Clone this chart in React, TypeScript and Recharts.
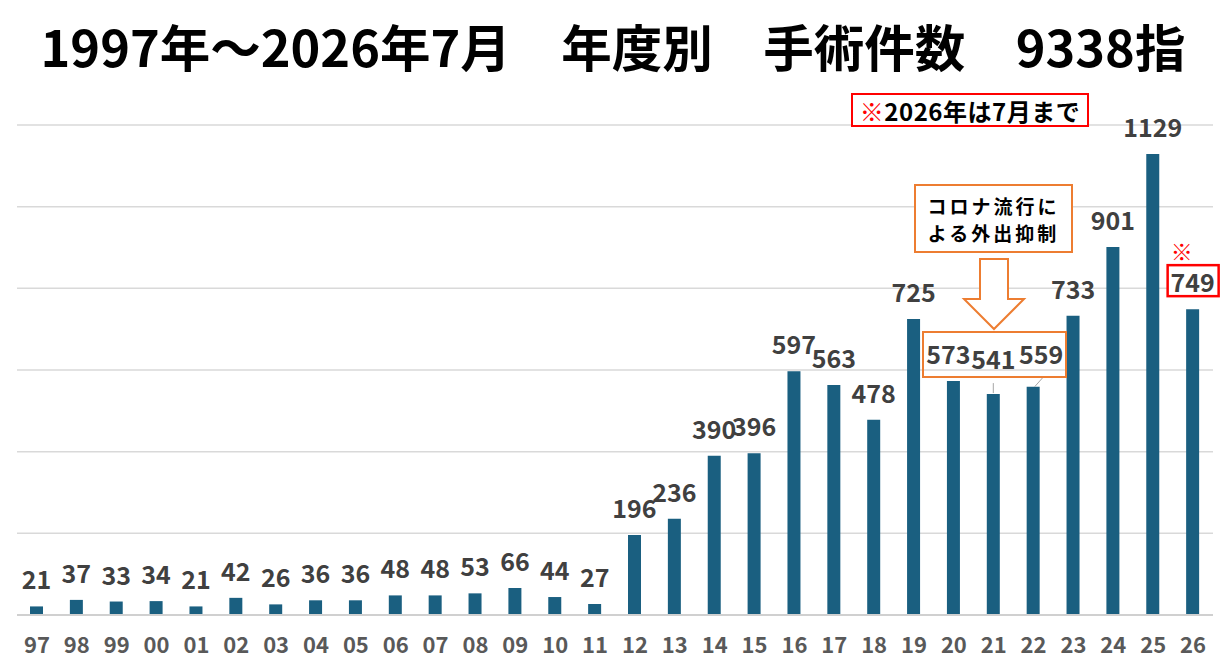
import React from 'react';
import { BarChart, Bar, XAxis, YAxis, CartesianGrid } from 'recharts';

// 年度（西暦下2桁）
const years = [
    '97', '98', '99', '00', '01', '02', '03', '04', '05', '06',
    '07', '08', '09', '10', '11', '12', '13', '14', '15', '16',
    '17', '18', '19', '20', '21', '22', '23', '24', '25', '26',
];

// 手術件数
const counts = [
    21, 37, 33, 34, 21, 42, 26, 36, 36, 48,
    48, 53, 66, 44, 27, 196, 236, 390, 396, 597,
    563, 478, 725, 573, 541, 559, 733, 901, 1129, 749,
];

const gridTicks = [0, 200, 400, 600, 800, 1000, 1200];

const chartData = years.map((y, i) => ({ year: y, count: counts[i] }));

const FONT = '"Noto Sans CJK JP", "Noto Sans", sans-serif';
const BAR_COLOR = '#1a5f80';
const ORANGE = '#ed7d31';
const RED = '#ff0000';

function ValueLabel(props: any) {
    const { x, y, width, value, index } = props;
    const cx = x + width / 2;
    let dx = 0;
    let dy = 0;
    // コロナ期のラベルは枠内に寄せる
    if (index === 23) dx = -5;
    if (index === 24) dy = -8;
    if (index === 25) { dx = 8; dy = -6; }
    const tx = cx + dx;
    const ty = y - 28 + dy;
    return (
        <g>
            {index === 24 && <line x1={cx} y1={y - 11} x2={cx} y2={y - 1} stroke="#a6a6a6" strokeWidth={1} />}
            {index === 25 && <line x1={cx + 1.5} y1={y} x2={cx + 9.5} y2={y - 9} stroke="#a6a6a6" strokeWidth={1} />}
            {index === 29 && (
                <rect x={cx - 25} y={ty - 16} width={51} height={31} fill="#fff" stroke={RED} strokeWidth={2.5} />
            )}
            {index === 29 && (
                <text x={cx - 11} y={ty - 31} textAnchor="middle" dominantBaseline="central"
                    fontSize={22} fill={RED} fontFamily={FONT}>※</text>
            )}
            <text x={tx} y={ty} textAnchor="middle" dominantBaseline="central"
                fontSize={25} fontWeight={700} fill="#404040" fontFamily={FONT}>{value}</text>
        </g>
    );
}

function YearTick(props: any) {
    const { x, y, payload } = props;
    return (
        <text x={x} y={y + 28} textAnchor="middle" dominantBaseline="central"
            fontSize={22} fontWeight={700} fill="#595959" fontFamily={FONT}>{payload.value}</text>
    );
}

export default function App() {
    return (
        <div style={{ position: 'absolute', left: 0, top: 0, width: 1226, height: 660, background: '#fff', fontFamily: FONT }}>
            <div style={{
                position: 'absolute', left: 0, top: 19, width: 1226, height: 52,
                textAlign: 'center', fontSize: 50.5, fontWeight: 700, lineHeight: '52px',
                color: '#000', whiteSpace: 'pre'
            }}>
                1997年～2026年7月　年度別　手術件数　9338指
            </div>

            <div style={{ position: 'absolute', left: 0, top: 0 }}>
                <BarChart width={1226} height={660} data={chartData}
                    margin={{ top: 125, right: 13, bottom: 15, left: 17 }}>
                    <CartesianGrid vertical={false} stroke="#d9d9d9" strokeWidth={1.5} />
                    <YAxis hide domain={[0, 1200]} ticks={gridTicks} />
                    <XAxis dataKey="year" height={30} axisLine={{ stroke: '#d0d0d0', strokeWidth: 2 }}
                        tickLine={false} tickSize={0} tickMargin={0} interval={0} tick={<YearTick />} />
                    <Bar dataKey="count" fill={BAR_COLOR} barSize={13} isAnimationActive={false}
                        label={<ValueLabel />} />
                </BarChart>
            </div>

            {/* 注記：2026年 */}
            <div style={{
                position: 'absolute', left: 851, top: 93, width: 238, height: 34, boxSizing: 'border-box',
                border: `2.5px solid ${RED}`, background: '#fff', display: 'flex', alignItems: 'center',
                justifyContent: 'center', fontSize: 24, fontWeight: 700, color: '#000', letterSpacing: '0.5px'
            }}>
                <span style={{ color: RED, fontWeight: 400 }}>※</span>2026年は7月まで
            </div>

            {/* コロナ注記 */}
            <div style={{
                position: 'absolute', left: 914, top: 184, width: 159, height: 69, boxSizing: 'border-box',
                border: `2px solid ${ORANGE}`, background: '#fff', display: 'flex', flexDirection: 'column',
                alignItems: 'center', justifyContent: 'center', fontSize: 19, fontWeight: 700,
                color: '#000', letterSpacing: '3px', lineHeight: '27px'
            }}>
                <div>コロナ流行に</div>
                <div>よる外出抑制</div>
            </div>

            <svg width={1226} height={660} style={{ position: 'absolute', left: 0, top: 0, pointerEvents: 'none' }}>
                <polygon points="980,259 1008,259 1008,299 1024,299 994,329 964,299 980,299"
                    fill="#fff" stroke={ORANGE} strokeWidth={2} />
                <rect x={923} y={332} width={143} height={45} fill="none" stroke={ORANGE} strokeWidth={2} />
            </svg>
        </div>
    );
}
